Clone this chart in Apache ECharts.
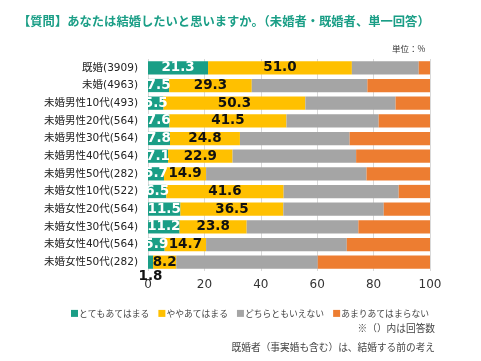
<!DOCTYPE html>
<html><head><meta charset="utf-8">
<script src="https://cdn.jsdelivr.net/npm/echarts@6/dist/echarts.min.js"></script>
<style>html,body{margin:0;padding:0;background:#fff}#c{width:481px;height:361px}</style>
</head><body><div id="c"></div>
<script>
const categories = ['既婚(3909)','未婚(4963)','未婚男性10代(493)','未婚男性20代(564)','未婚男性30代(564)','未婚男性40代(564)','未婚男性50代(282)','未婚女性10代(522)','未婚女性20代(564)','未婚女性30代(564)','未婚女性40代(564)','未婚女性50代(282)'];
const seriesNames = ['とてもあてはまる','ややあてはまる','どちらともいえない','あまりあてはまらない'];
const veryTrue = [21.3,7.5,5.5,7.6,7.8,7.1,5.7,6.5,11.5,11.2,5.9,1.8];
const somewhatTrue = [51.0,29.3,50.3,41.5,24.8,22.9,14.9,41.6,36.5,23.8,14.7,8.2];
const neither = [23.7,41.0,32.0,32.7,38.9,43.8,56.9,40.8,35.6,39.6,49.9,50.2];
const notReally = [4.0,22.2,12.2,18.2,28.5,26.2,22.5,11.1,16.4,25.4,29.5,39.8];
const xTicks = [0,20,40,60,80,100];

const colors = ['#1a9e86','#ffc000','#a5a5a5','#ed7d31'];
const fontJP = '"Noto Sans CJK JP","Noto Sans",sans-serif';
const fontMix = '"DejaVu Sans","Noto Sans CJK JP",sans-serif';
const chart = echarts.init(document.getElementById('c'));
const valueLabel = (color) => ({show:true, position:'inside', color, fontFamily:'"DejaVu Sans",sans-serif', fontWeight:'bold', fontSize:13.5, formatter:p=>p.value.toFixed(1)});
const tealData = veryTrue.map((v,i)=> v < 3 ? {value:v, label:{position:'bottom', color:'#111', distance:1}} : v);
chart.setOption({
  animation:false,
  title:[
    {text:'【質問】あなたは結婚したいと思いますか。（未婚者・既婚者、単一回答）', left:13, top:10, textStyle:{color:'#1a9e86', fontSize:12.3, fontWeight:'bold', fontFamily:fontJP}},
    {text:'単位：%', left:387, top:40, textStyle:{color:'#333', fontSize:8.5, fontWeight:'normal', fontFamily:fontJP}},
    {text:'※（）内は回答数', right:41, top:318, textStyle:{color:'#444', fontSize:9.7, fontWeight:'normal', fontFamily:fontJP}},
    {text:'既婚者（事実婚も含む）は、結婚する前の考え', right:41, top:337, textStyle:{color:'#444', fontSize:9.7, fontWeight:'normal', fontFamily:fontJP}}
  ],
  legend:{left:66, top:304, itemWidth:7, itemHeight:7, itemGap:9, icon:'rect', textStyle:{fontSize:8.8, color:'#444', fontFamily:fontJP, padding:[0,0,0,-4]}, data:seriesNames},
  grid:{left:148, right:51, top:59, bottom:90},
  xAxis:{type:'value', min:xTicks[0], max:xTicks[xTicks.length-1], interval:20,
    axisLabel:{color:'#333', fontSize:12, fontFamily:'"DejaVu Sans",sans-serif', margin:8},
    splitLine:{lineStyle:{color:'#d9d9d9'}}, axisLine:{show:false}, axisTick:{show:false}},
  yAxis:{type:'category', data:categories, inverse:true,
    axisLabel:{color:'#222', fontSize:10.5, fontFamily:fontMix, margin:10},
    axisLine:{show:false}, axisTick:{show:false}},
  series:[
    {name:seriesNames[0], type:'bar', stack:'a', barWidth:'75%', itemStyle:{color:colors[0]}, label:valueLabel('#fff'), data:tealData},
    {name:seriesNames[1], type:'bar', stack:'a', itemStyle:{color:colors[1]}, label:valueLabel('#111'), data:somewhatTrue},
    {name:seriesNames[2], type:'bar', stack:'a', itemStyle:{color:colors[2]}, data:neither},
    {name:seriesNames[3], type:'bar', stack:'a', itemStyle:{color:colors[3]}, data:notReally}
  ]
});
</script></body></html>
